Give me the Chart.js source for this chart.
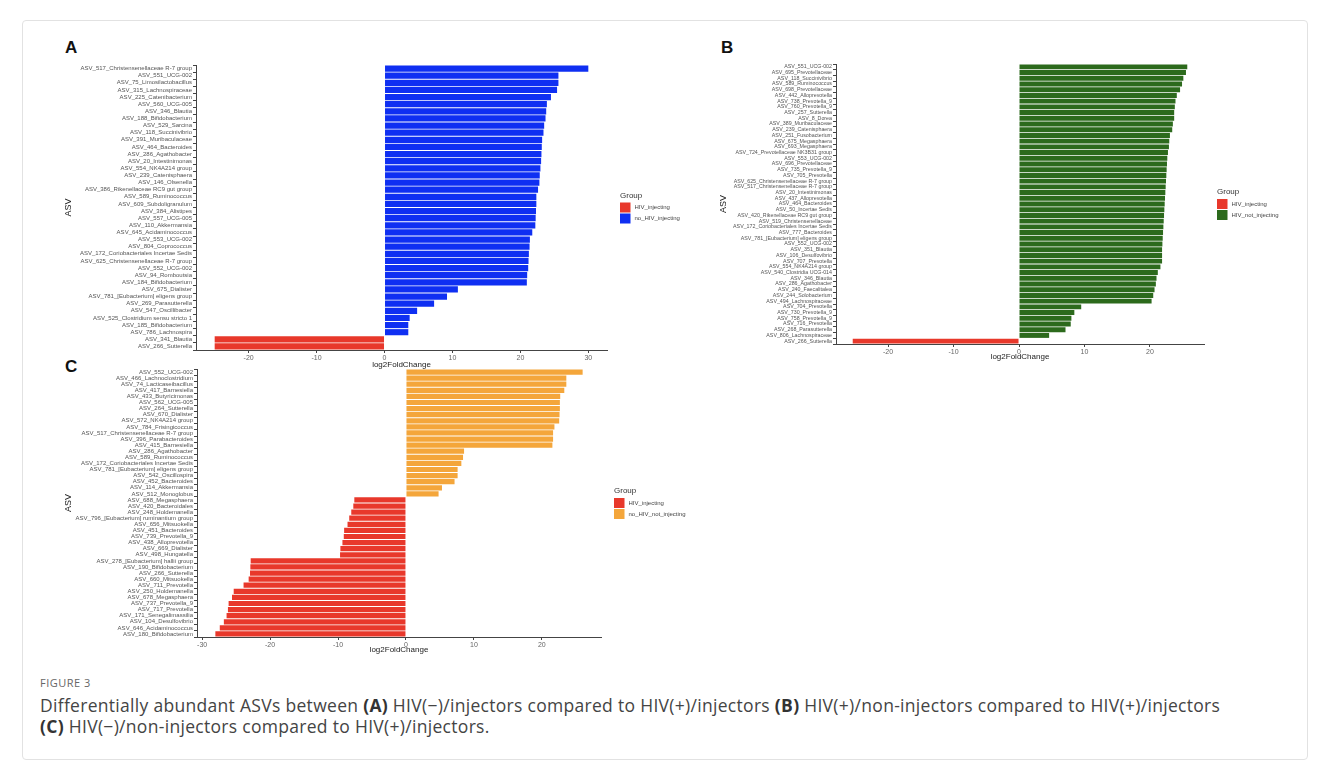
<!DOCTYPE html>
<html>
<head>
<meta charset="utf-8">
<script src="https://cdn.jsdelivr.net/npm/chart.js@4.4.1/dist/chart.umd.min.js"></script>
<style>
  body { margin: 0; background: #fff; width: 1328px; height: 767px; overflow: hidden; position: relative; }
  .frame { position: absolute; left: 22px; top: 20px; width: 1286px; height: 740px; border: 1px solid #e2e2e2; border-radius: 4px; box-sizing: border-box; }
  canvas { position: absolute; }
  .tag { position: absolute; font: bold 17px "Liberation Sans", Arial, sans-serif; color: #111; }
  .fig { position: absolute; left: 40px; top: 675px; font: 11px "Open Sans", sans-serif; letter-spacing: 0.5px; color: #666; }
  .cap { position: absolute; left: 40px; top: 695px; font: 17.5px/21px "Open Sans", sans-serif; letter-spacing: 0.3px; color: #444; }
  .cap b { color: #333; }
</style>
</head>
<body>
<div class="frame"></div>
<div class="tag" style="left:65px;top:38px">A</div>
<div class="tag" style="left:721px;top:38px">B</div>
<div class="tag" style="left:65px;top:357px">C</div>
<canvas id="chartA" width="660" height="314" style="left:40px;top:55px"></canvas>
<canvas id="chartB" width="600" height="307" style="left:705px;top:54px"></canvas>
<canvas id="chartC" width="660" height="295" style="left:40px;top:359px"></canvas>
<div class="fig">FIGURE 3</div>
<div class="cap">Differentially abundant ASVs between <b>(A)</b> HIV(&minus;)/injectors compared to HIV(+)/injectors <b>(B)</b> HIV(+)/non-injectors compared to HIV(+)/injectors<br><b>(C)</b> HIV(&minus;)/non-injectors compared to HIV(+)/injectors.</div>
<script>
// Panel A: HIV(-)/injectors vs HIV(+)/injectors
const asvA = [
  'ASV_517_Christensenellaceae R-7 group', 'ASV_551_UCG-002', 'ASV_75_Limosilactobacillus',
  'ASV_315_Lachnospiraceae', 'ASV_225_Catenibacterium', 'ASV_560_UCG-005', 'ASV_346_Blautia',
  'ASV_188_Bifidobacterium', 'ASV_529_Sarcina', 'ASV_118_Succinivibrio', 'ASV_391_Muribaculaceae',
  'ASV_464_Bacteroides', 'ASV_286_Agathobacter', 'ASV_20_Intestinimonas', 'ASV_554_NK4A214 group',
  'ASV_239_Catenisphaera', 'ASV_146_Olsenella', 'ASV_386_Rikenellaceae RC9 gut group',
  'ASV_589_Ruminococcus', 'ASV_609_Subdoligranulum', 'ASV_384_Alistipes', 'ASV_557_UCG-005',
  'ASV_110_Akkermansia', 'ASV_645_Acidaminococcus', 'ASV_553_UCG-002', 'ASV_804_Coprococcus',
  'ASV_172_Coriobacteriales Incertae Sedis', 'ASV_625_Christensenellaceae R-7 group',
  'ASV_552_UCG-002', 'ASV_94_Romboutsia', 'ASV_184_Bifidobacterium', 'ASV_675_Dialister',
  'ASV_781_[Eubacterium] eligens group', 'ASV_269_Parasutterella', 'ASV_547_Oscillibacter',
  'ASV_525_Clostridium sensu stricto 1', 'ASV_185_Bifidobacterium', 'ASV_786_Lachnospira',
  'ASV_341_Blautia', 'ASV_266_Sutterella'
];
const lfcA = [
  30.0, 25.6, 25.6, 25.4, 24.5, 23.9, 23.8, 23.7, 23.5, 23.4,
  23.2, 23.15, 23.1, 23.05, 22.95, 22.85, 22.8, 22.6, 22.35, 22.35,
  22.3, 22.25, 22.2, 21.75, 21.4, 21.35, 21.25, 21.2, 21.15, 21.0,
  20.95, 10.8, 9.2, 7.3, 4.8, 3.7, 3.5, 3.5, -25.0, -25.0
];
const ticksA = [-20, -10, 0, 10, 20, 30];

// Panel B: HIV(+)/non-injectors vs HIV(+)/injectors
const asvB = [
  'ASV_551_UCG-002', 'ASV_695_Prevotellaceae', 'ASV_118_Succinivibrio', 'ASV_589_Ruminococcus',
  'ASV_698_Prevotellaceae', 'ASV_442_Alloprevotella', 'ASV_738_Prevotella_9', 'ASV_760_Prevotella_9',
  'ASV_257_Sutterella', 'ASV_8_Dorea', 'ASV_389_Muribaculaceae', 'ASV_239_Catenisphaera',
  'ASV_251_Fusobacterium', 'ASV_675_Megasphaera', 'ASV_693_Megasphaera',
  'ASV_724_Prevotellaceae NK3B31 group', 'ASV_553_UCG-002', 'ASV_696_Prevotellaceae',
  'ASV_735_Prevotella_9', 'ASV_705_Prevotella', 'ASV_625_Christensenellaceae R-7 group',
  'ASV_517_Christensenellaceae R-7 group', 'ASV_20_Intestinimonas', 'ASV_437_Alloprevotella',
  'ASV_464_Bacteroides', 'ASV_50_Incertae Sedis', 'ASV_420_Rikenellaceae RC9 gut group',
  'ASV_519_Christensenellaceae', 'ASV_172_Coriobacteriales Incertae Sedis', 'ASV_777_Bacteroides',
  'ASV_781_[Eubacterium] eligens group', 'ASV_552_UCG-002', 'ASV_351_Blautia',
  'ASV_106_Desulfovibrio', 'ASV_707_Prevotella', 'ASV_554_NK4A214 group',
  'ASV_540_Clostridia UCG-014', 'ASV_346_Blautia', 'ASV_286_Agathobacter', 'ASV_240_Faecalitalea',
  'ASV_244_Solobacterium', 'ASV_494_Lachnospiraceae', 'ASV_704_Prevotella', 'ASV_730_Prevotella_9',
  'ASV_758_Prevotella_9', 'ASV_716_Prevotella', 'ASV_268_Parasutterella',
  'ASV_806_Lachnospiraceae', 'ASV_266_Sutterella'
];
const lfcB = [
  25.7, 25.5, 25.1, 24.9, 24.6, 24.1, 23.9, 23.8, 23.7, 23.7,
  23.5, 23.4, 23.05, 22.95, 22.9, 22.75, 22.65, 22.6, 22.55, 22.5,
  22.45, 22.4, 22.35, 22.3, 22.25, 22.2, 22.15, 22.1, 22.05, 22.0,
  21.95, 21.9, 21.85, 21.85, 21.85, 21.6, 21.2, 21.0, 20.9, 20.7,
  20.5, 20.25, 9.5, 8.45, 8.0, 7.9, 7.1, 4.6, -25.4
];
const ticksB = [-20, -10, 0, 10, 20];

// Panel C: HIV(-)/non-injectors vs HIV(+)/injectors
const asvC = [
  'ASV_552_UCG-002', 'ASV_466_Lachnoclostridium', 'ASV_74_Lacticaseibacillus', 'ASV_417_Barnesiella',
  'ASV_433_Butyricimonas', 'ASV_562_UCG-005', 'ASV_264_Sutterella', 'ASV_670_Dialister',
  'ASV_572_NK4A214 group', 'ASV_784_Frisingicoccus', 'ASV_517_Christensenellaceae R-7 group',
  'ASV_396_Parabacteroides', 'ASV_415_Barnesiella', 'ASV_286_Agathobacter', 'ASV_589_Ruminococcus',
  'ASV_172_Coriobacteriales Incertae Sedis', 'ASV_781_[Eubacterium] eligens group',
  'ASV_542_Oscillospira', 'ASV_452_Bacteroides', 'ASV_114_Akkermansia', 'ASV_512_Monoglobus',
  'ASV_688_Megasphaera', 'ASV_420_Bacteroidales', 'ASV_248_Holdemanella',
  'ASV_796_[Eubacterium] ruminantium group', 'ASV_656_Mitsuokella', 'ASV_451_Bacteroides',
  'ASV_739_Prevotella_9', 'ASV_438_Alloprevotella', 'ASV_669_Dialister', 'ASV_498_Hungatella',
  'ASV_278_[Eubacterium] hallii group', 'ASV_190_Bifidobacterium', 'ASV_266_Sutterella',
  'ASV_660_Mitsuokella', 'ASV_711_Prevotella', 'ASV_250_Holdemanella', 'ASV_678_Megasphaera',
  'ASV_737_Prevotella_9', 'ASV_717_Prevotella', 'ASV_171_Senegalimassilia',
  'ASV_104_Desulfovibrio', 'ASV_646_Acidaminococcus', 'ASV_180_Bifidobacterium'
];
const lfcC = [
  26.0, 23.6, 23.6, 23.3, 22.7, 22.65, 22.65, 22.6, 22.55, 21.85,
  21.65, 21.65, 21.55, 8.55, 8.4, 8.15, 7.6, 7.6, 7.15, 5.3,
  4.8, -7.6, -7.75, -8.05, -8.35, -8.6, -9.1, -9.15, -9.35, -9.65,
  -9.7, -22.85, -22.9, -22.95, -23.15, -23.9, -25.35, -25.6, -26.1, -26.2,
  -26.4, -26.8, -27.4, -28.05
];
const ticksC = [-30, -20, -10, 0, 10, 20];

const RED = '#e8382b';
const FONT = '"Liberation Sans", Arial, sans-serif';

// draws the ggplot-style "Group" legend to the right of the panel
const groupLegend = {
  id: 'groupLegend',
  afterDraw(chart, args, opts) {
    const { ctx, chartArea } = chart;
    const x = chartArea.right + opts.gap;
    const cy = (chartArea.top + chartArea.bottom) / 2;
    ctx.save();
    ctx.textBaseline = 'middle';
    ctx.textAlign = 'left';
    ctx.fillStyle = '#333';
    ctx.font = '8px ' + FONT;
    ctx.fillText('Group', x, cy - 12);
    ctx.font = '6px ' + FONT;
    chart.data.datasets.forEach((ds, i) => {
      const y = cy + i * 11;
      ctx.fillStyle = ds.backgroundColor;
      ctx.fillRect(x, y - 5, opts.box, 10);
      ctx.fillStyle = '#444';
      ctx.fillText(ds.label, x + opts.box + 4, y);
    });
    ctx.restore();
  }
};

function drawPanel(id, labels, values, ticks, posLabel, posColor, cfg) {
  const lo = Math.min(...values), hi = Math.max(...values);
  const pad = (hi - lo) * 0.05;
  new Chart(document.getElementById(id), {
    type: 'bar',
    data: {
      labels: labels,
      datasets: [
        {
          label: 'HIV_injecting',
          data: values.map(v => v < 0 ? v : null),
          backgroundColor: RED
        },
        {
          label: posLabel,
          data: values.map(v => v >= 0 ? v : null),
          backgroundColor: posColor
        }
      ]
    },
    options: {
      indexAxis: 'y',
      responsive: false,
      animation: false,
      devicePixelRatio: 1,
      layout: { padding: { left: cfg.padLeft, top: 10, right: cfg.padRight, bottom: 0 } },
      datasets: {
        bar: {
          grouped: false,
          barPercentage: 0.86,
          categoryPercentage: 1,
          borderWidth: 0
        }
      },
      scales: {
        x: {
          min: lo - pad,
          max: hi + pad,
          afterBuildTicks: s => { s.ticks = ticks.map(v => ({ value: v })); },
          afterFit: s => { s.height = cfg.xHeight; },
          grid: { drawOnChartArea: false, tickLength: 3, color: '#444' },
          border: { color: '#444', width: 1 },
          ticks: { font: { size: 7, family: FONT }, color: '#666', padding: 1, maxRotation: 0 },
          title: {
            display: true, text: 'log2FoldChange', color: '#222',
            font: { size: 8, family: FONT, lineHeight: 1 }, padding: 0
          }
        },
        y: {
          afterFit: s => { s.width = cfg.yWidth; },
          grid: { drawOnChartArea: false, tickLength: 3, color: '#444' },
          border: { color: '#444', width: 1 },
          ticks: { autoSkip: false, font: { size: cfg.labelSize, family: FONT }, color: '#555', padding: 1 },
          title: {
            display: true, text: 'ASV', color: '#222',
            font: { size: 9, family: FONT, lineHeight: 1 }, padding: 0
          }
        }
      },
      plugins: {
        legend: { display: false },
        tooltip: { enabled: false },
        groupLegend: { gap: 13, box: 10.5 }
      }
    },
    plugins: [groupLegend]
  });
}

drawPanel('chartA', asvA, lfcA, ticksA, 'no_HIV_injecting', '#0f2ff2',
  { padLeft: 24, yWidth: 132, padRight: 93, xHeight: 19, labelSize: 6 });
drawPanel('chartB', asvB, lfcB, ticksB, 'HIV_not_injecting', '#2c6a1c',
  { padLeft: 14, yWidth: 117, padRight: 101, xHeight: 17, labelSize: 5.3 });
drawPanel('chartC', asvC, lfcC, ticksC, 'no_HIV_not_injecting', '#f4a63b',
  { padLeft: 24, yWidth: 133, padRight: 99, xHeight: 17, labelSize: 6 });
</script>
</body>
</html>
